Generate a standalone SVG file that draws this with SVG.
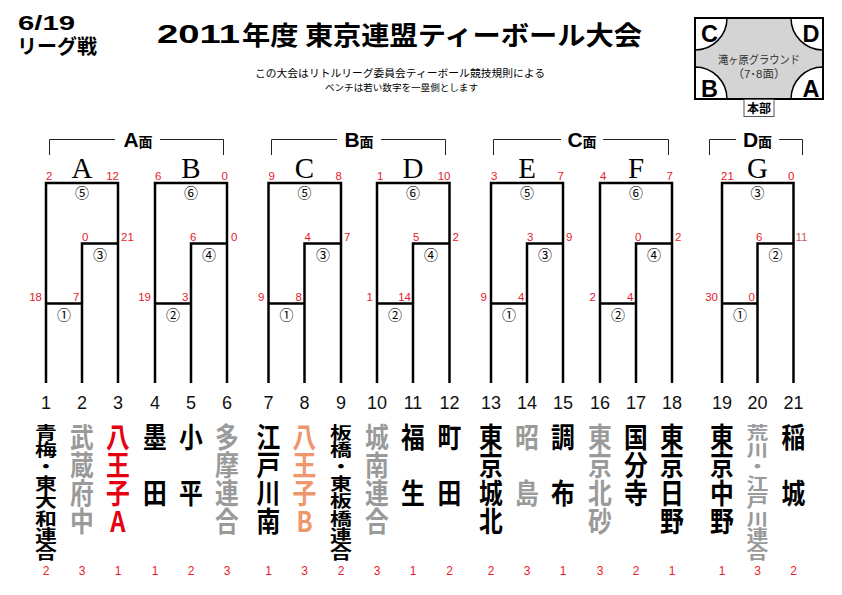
<svg xmlns="http://www.w3.org/2000/svg" width="842" height="595" viewBox="0 0 842 595">
<style>
.jp{font-family:"Noto Sans CJK JP","Noto Sans CJK SC",sans-serif}
.jl{font-family:"Liberation Sans","Noto Sans CJK JP",sans-serif}
.hd{font-family:"Noto Sans CJK JP",sans-serif;font-weight:bold;fill:#000}
.br{fill:none;stroke:#000;stroke-width:2.5;stroke-linejoin:miter}
.fb{fill:none;stroke:#222;stroke-width:1}
.sc{font-family:"Liberation Sans",Arial,sans-serif;font-size:11.5px;fill:#e8202a}
.sc2{font-family:"Liberation Sans",Arial,sans-serif;font-size:11.5px;fill:#c0605a}
.cn{font-family:"Liberation Sans","Noto Sans CJK JP",sans-serif;font-size:14px;text-anchor:middle;fill:#000}
.lt{font-family:"Liberation Serif","Times New Roman",serif;font-size:29px;text-anchor:middle;fill:#000}
.fl{font-family:"Liberation Sans",Arial,"Noto Sans CJK JP",sans-serif;font-weight:bold;text-anchor:middle;fill:#000}
.num{font-family:"Liberation Sans",Arial,sans-serif;font-size:18px;text-anchor:middle;fill:#111}
.bn{font-family:"Liberation Sans",Arial,sans-serif;font-size:12px;text-anchor:middle;fill:#e8202a}
.nm{font-family:"Noto Sans CJK JP",sans-serif;font-weight:bold;font-size:28px;writing-mode:vertical-rl;text-orientation:upright}
.nm8{font-family:"Noto Sans CJK JP",sans-serif;font-weight:bold;font-size:21px;writing-mode:vertical-rl;text-orientation:upright;letter-spacing:0.4px}
.k{fill:#000}.g{fill:#9a9a9a}.r{fill:#e60012}.s{fill:#f0966c}
.cl{font-family:"Liberation Sans",Arial,sans-serif;font-weight:bold;font-size:23.5px;text-anchor:middle;fill:#000}
</style>

<g id="header">
<text x="18" y="30" font-size="21" font-weight="bold" textLength="57" lengthAdjust="spacingAndGlyphs" font-family="Liberation Sans, Arial, sans-serif">6/19</text>
<text class="jl" x="17" y="54" font-size="20" font-weight="bold" textLength="80" lengthAdjust="spacingAndGlyphs">リーグ戦</text>
<text x="157" y="43" font-size="25" font-weight="bold" textLength="83" lengthAdjust="spacingAndGlyphs" font-family="Liberation Sans, Arial, sans-serif">2011</text>
<text class="hd" x="242" y="45" font-size="26" textLength="400" lengthAdjust="spacingAndGlyphs">年度 東京連盟ティーボール大会</text>
<text class="jp" x="255" y="77" font-size="10.5" textLength="290" lengthAdjust="spacingAndGlyphs" fill="#000">この大会はリトルリーグ委員会ティーボール競技規則による</text>
<text class="jp" x="325" y="91" font-size="9.5" textLength="153" lengthAdjust="spacingAndGlyphs" fill="#000">ベンチは若い数字を一塁側とします</text>
</g>

<g id="ground">
<rect x="695" y="18" width="128" height="81" fill="#d4d4d4"/>
<path d="M695,50 A32,32 0 0 0 727,18 L695,18 Z" fill="#fff" stroke="#000" stroke-width="1.5"/>
<path d="M791,18 A32,32 0 0 0 823,50 L823,18 Z" fill="#fff" stroke="#000" stroke-width="1.5"/>
<path d="M695,67 A32,32 0 0 1 727,99 L695,99 Z" fill="#fff" stroke="#000" stroke-width="1.5"/>
<path d="M791,99 A32,32 0 0 1 823,67 L823,99 Z" fill="#fff" stroke="#000" stroke-width="1.5"/>
<rect x="695" y="18" width="128" height="81" fill="none" stroke="#000" stroke-width="2"/>
<text class="cl" x="709.5" y="42">C</text>
<text class="cl" x="811" y="42">D</text>
<text class="cl" x="709.5" y="97">B</text>
<text class="cl" x="811" y="97">A</text>
<text class="jl" x="759" y="64" font-size="11.5" text-anchor="middle" fill="#333" textLength="82" lengthAdjust="spacingAndGlyphs">滝ヶ原グラウンド</text>
<text class="jl" x="759" y="77.5" font-size="11.5" text-anchor="middle" fill="#333">（7･8面）</text>
<rect x="744" y="99.5" width="30" height="17" fill="#fff" stroke="#555" stroke-width="1"/>
<text class="jl" x="759" y="112.5" font-size="12" font-weight="bold" text-anchor="middle" fill="#000">本部</text>
</g>

<g id="faces">
<path class="fb" d="M49.5,155 V139.5 H115 M160,139.5 H223.5 V155"/>
<text class="fl" x="138" y="147"><tspan font-size="21">A</tspan><tspan font-size="14">面</tspan></text>
<path class="fb" d="M271.5,155 V139.5 H337 M381,139.5 H445.5 V155"/>
<text class="fl" x="359" y="147"><tspan font-size="21">B</tspan><tspan font-size="14">面</tspan></text>
<path class="fb" d="M493.5,155 V139.5 H561 M603,139.5 H668.5 V155"/>
<text class="fl" x="582" y="147"><tspan font-size="21">C</tspan><tspan font-size="14">面</tspan></text>
<path class="fb" d="M709.5,155 V139.5 H736 M779,139.5 H802.5 V155"/>
<text class="fl" x="757.5" y="147"><tspan font-size="21">D</tspan><tspan font-size="14">面</tspan></text>
</g>

<g id="connectors">
<path class="br" d="M46,383 V183 H118 V383 M82,383 V243.5 H118 M46,303.5 H82"/>
<path class="br" d="M155,383 V183 H227 V383 M191,383 V243.5 H227 M155,303.5 H191"/>
<path class="br" d="M268.5,383 V183 H341 V383 M304.5,383 V243.5 H341 M268.5,303.5 H304.5"/>
<path class="br" d="M377,383 V183 H449.5 V383 M413,383 V243.5 H449.5 M377,303.5 H413"/>
<path class="br" d="M491,383 V183 H563 V383 M527,383 V243.5 H563 M491,303.5 H527"/>
<path class="br" d="M600,383 V183 H672 V383 M636,383 V243.5 H672 M600,303.5 H636"/>
<path class="br" d="M722,383 V183 H793.5 V383 M757.5,383 V243.5 H793.5 M722,303.5 H757.5"/>
</g>

<g id="league-A">
<text class="lt" x="82" y="178">A</text>
<text class="sc" x="46" y="180">2</text><text class="sc" x="119" y="180" text-anchor="end">12</text>
<text class="sc" x="82" y="241">0</text><text class="sc" x="121" y="241">21</text>
<text class="sc" x="42" y="301" text-anchor="end">18</text><text class="sc" x="79.5" y="301" text-anchor="end">7</text>
<text class="cn" x="82" y="198">⑤</text><text class="cn" x="100" y="260">③</text><text class="cn" x="64" y="320">①</text>
</g>
<g id="league-B">
<text class="lt" x="191" y="178">B</text>
<text class="sc" x="155" y="180">6</text><text class="sc" x="228" y="180" text-anchor="end">0</text>
<text class="sc" x="190" y="241">6</text><text class="sc" x="231" y="241">0</text>
<text class="sc" x="151" y="301" text-anchor="end">19</text><text class="sc" x="188.5" y="301" text-anchor="end">3</text>
<text class="cn" x="191" y="198">⑥</text><text class="cn" x="209" y="260">④</text><text class="cn" x="173" y="320">②</text>
</g>
<g id="league-C">
<text class="lt" x="304.5" y="178">C</text>
<text class="sc" x="268.5" y="180">9</text><text class="sc" x="342" y="180" text-anchor="end">8</text>
<text class="sc" x="304.5" y="241">4</text><text class="sc" x="344" y="241">7</text>
<text class="sc" x="264.5" y="301" text-anchor="end">9</text><text class="sc" x="302" y="301" text-anchor="end">8</text>
<text class="cn" x="304.5" y="198">⑤</text><text class="cn" x="323" y="260">③</text><text class="cn" x="286.5" y="320">①</text>
</g>
<g id="league-D">
<text class="lt" x="413" y="178">D</text>
<text class="sc" x="377" y="180">1</text><text class="sc" x="450.5" y="180" text-anchor="end">10</text>
<text class="sc" x="413" y="241">5</text><text class="sc" x="452.5" y="241">2</text>
<text class="sc" x="373" y="301" text-anchor="end">1</text><text class="sc" x="411" y="301" text-anchor="end">14</text>
<text class="cn" x="413" y="198">⑥</text><text class="cn" x="431" y="260">④</text><text class="cn" x="395" y="320">②</text>
</g>
<g id="league-E">
<text class="lt" x="527" y="178">E</text>
<text class="sc" x="491" y="180">3</text><text class="sc" x="564" y="180" text-anchor="end">7</text>
<text class="sc" x="527" y="241">3</text><text class="sc" x="566" y="241">9</text>
<text class="sc" x="487" y="301" text-anchor="end">9</text><text class="sc" x="524.5" y="301" text-anchor="end">4</text>
<text class="cn" x="527" y="198">⑤</text><text class="cn" x="545" y="260">③</text><text class="cn" x="509" y="320">①</text>
</g>
<g id="league-F">
<text class="lt" x="636" y="178">F</text>
<text class="sc" x="600" y="180">4</text><text class="sc" x="673" y="180" text-anchor="end">7</text>
<text class="sc" x="635" y="241">0</text><text class="sc" x="675" y="241">2</text>
<text class="sc" x="596" y="301" text-anchor="end">2</text><text class="sc" x="633.5" y="301" text-anchor="end">4</text>
<text class="cn" x="636" y="198">⑥</text><text class="cn" x="654" y="260">④</text><text class="cn" x="618" y="320">②</text>
</g>
<g id="league-G">
<text class="lt" x="757.5" y="178">G</text>
<text class="sc" x="721" y="180">21</text><text class="sc" x="794.5" y="180" text-anchor="end">0</text>
<text class="sc" x="756" y="241">6</text><text class="sc2" x="795.5" y="241">11</text>
<text class="sc" x="718" y="301" text-anchor="end">30</text><text class="sc" x="755" y="301" text-anchor="end">0</text>
<text class="cn" x="757.5" y="198">③</text><text class="cn" x="775.5" y="260">②</text><text class="cn" x="740" y="320">①</text>
</g>

<g id="team-numbers">
<text class="num" x="46" y="409">1</text><text class="num" x="82" y="409">2</text><text class="num" x="118" y="409">3</text>
<text class="num" x="155" y="409">4</text><text class="num" x="191" y="409">5</text><text class="num" x="227" y="409">6</text>
<text class="num" x="268.5" y="409">7</text><text class="num" x="304.5" y="409">8</text><text class="num" x="341" y="409">9</text>
<text class="num" x="377" y="409">10</text><text class="num" x="413" y="409">11</text><text class="num" x="449.5" y="409">12</text>
<text class="num" x="491" y="409">13</text><text class="num" x="527" y="409">14</text><text class="num" x="563" y="409">15</text>
<text class="num" x="600" y="409">16</text><text class="num" x="636" y="409">17</text><text class="num" x="672" y="409">18</text>
<text class="num" x="722" y="409">19</text><text class="num" x="757.5" y="409">20</text><text class="num" x="793.5" y="409">21</text>
</g>

<g id="team-names">
<text class="nm8 k" transform="translate(46,425) scale(1.04,0.8)" x="0" y="-1">青梅・東大和連合</text>
<text class="nm g" transform="translate(82,0) scale(0.85,1)" x="0" y="423.5">武蔵府中</text>
<text class="nm r" transform="translate(118,0) scale(0.85,1)" x="0" y="423.5">八王子A</text>
<text class="nm k" transform="translate(155,0) scale(0.85,1)" x="0" y="423.5">墨　田</text>
<text class="nm k" transform="translate(191,0) scale(0.85,1)" x="0" y="423.5">小　平</text>
<text class="nm g" transform="translate(227,0) scale(0.85,1)" x="0" y="423.5">多摩連合</text>
<text class="nm k" transform="translate(268.5,0) scale(0.85,1)" x="0" y="423.5">江戸川南</text>
<text class="nm s" transform="translate(304.5,0) scale(0.85,1)" x="0" y="423.5">八王子B</text>
<text class="nm8 k" transform="translate(341,425) scale(1.04,0.8)" x="0" y="-1">板橋・東板橋連合</text>
<text class="nm g" transform="translate(377,0) scale(0.85,1)" x="0" y="423.5">城南連合</text>
<text class="nm k" transform="translate(413,0) scale(0.85,1)" x="0" y="423.5">福　生</text>
<text class="nm k" transform="translate(449.5,0) scale(0.85,1)" x="0" y="423.5">町　田</text>
<text class="nm k" transform="translate(491,0) scale(0.85,1)" x="0" y="423.5">東京城北</text>
<text class="nm g" transform="translate(527,0) scale(0.85,1)" x="0" y="423.5">昭　島</text>
<text class="nm k" transform="translate(563,0) scale(0.85,1)" x="0" y="423.5">調　布</text>
<text class="nm g" transform="translate(600,0) scale(0.85,1)" x="0" y="423.5">東京北砂</text>
<text class="nm k" transform="translate(636,0) scale(0.85,1)" x="0" y="423.5">国分寺</text>
<text class="nm k" transform="translate(672,0) scale(0.85,1)" x="0" y="423.5">東京日野</text>
<text class="nm k" transform="translate(722,0) scale(0.85,1)" x="0" y="423.5">東京中野</text>
<text class="nm8 g" transform="translate(757.5,425) scale(1.04,0.8)" x="0" y="-1">荒川・江戸川連合</text>
<text class="nm k" transform="translate(793.5,0) scale(0.85,1)" x="0" y="423.5">稲　城</text>
</g>

<g id="bench-numbers">
<text class="bn" x="46" y="575">2</text><text class="bn" x="82" y="575">3</text><text class="bn" x="118" y="575">1</text>
<text class="bn" x="155" y="575">1</text><text class="bn" x="191" y="575">2</text><text class="bn" x="227" y="575">3</text>
<text class="bn" x="268.5" y="575">1</text><text class="bn" x="304.5" y="575">3</text><text class="bn" x="341" y="575">2</text>
<text class="bn" x="377" y="575">3</text><text class="bn" x="413" y="575">1</text><text class="bn" x="449.5" y="575">2</text>
<text class="bn" x="491" y="575">2</text><text class="bn" x="527" y="575">3</text><text class="bn" x="563" y="575">1</text>
<text class="bn" x="600" y="575">3</text><text class="bn" x="636" y="575">2</text><text class="bn" x="672" y="575">1</text>
<text class="bn" x="722" y="575">1</text><text class="bn" x="757.5" y="575">3</text><text class="bn" x="793.5" y="575">2</text>
</g>
</svg>
